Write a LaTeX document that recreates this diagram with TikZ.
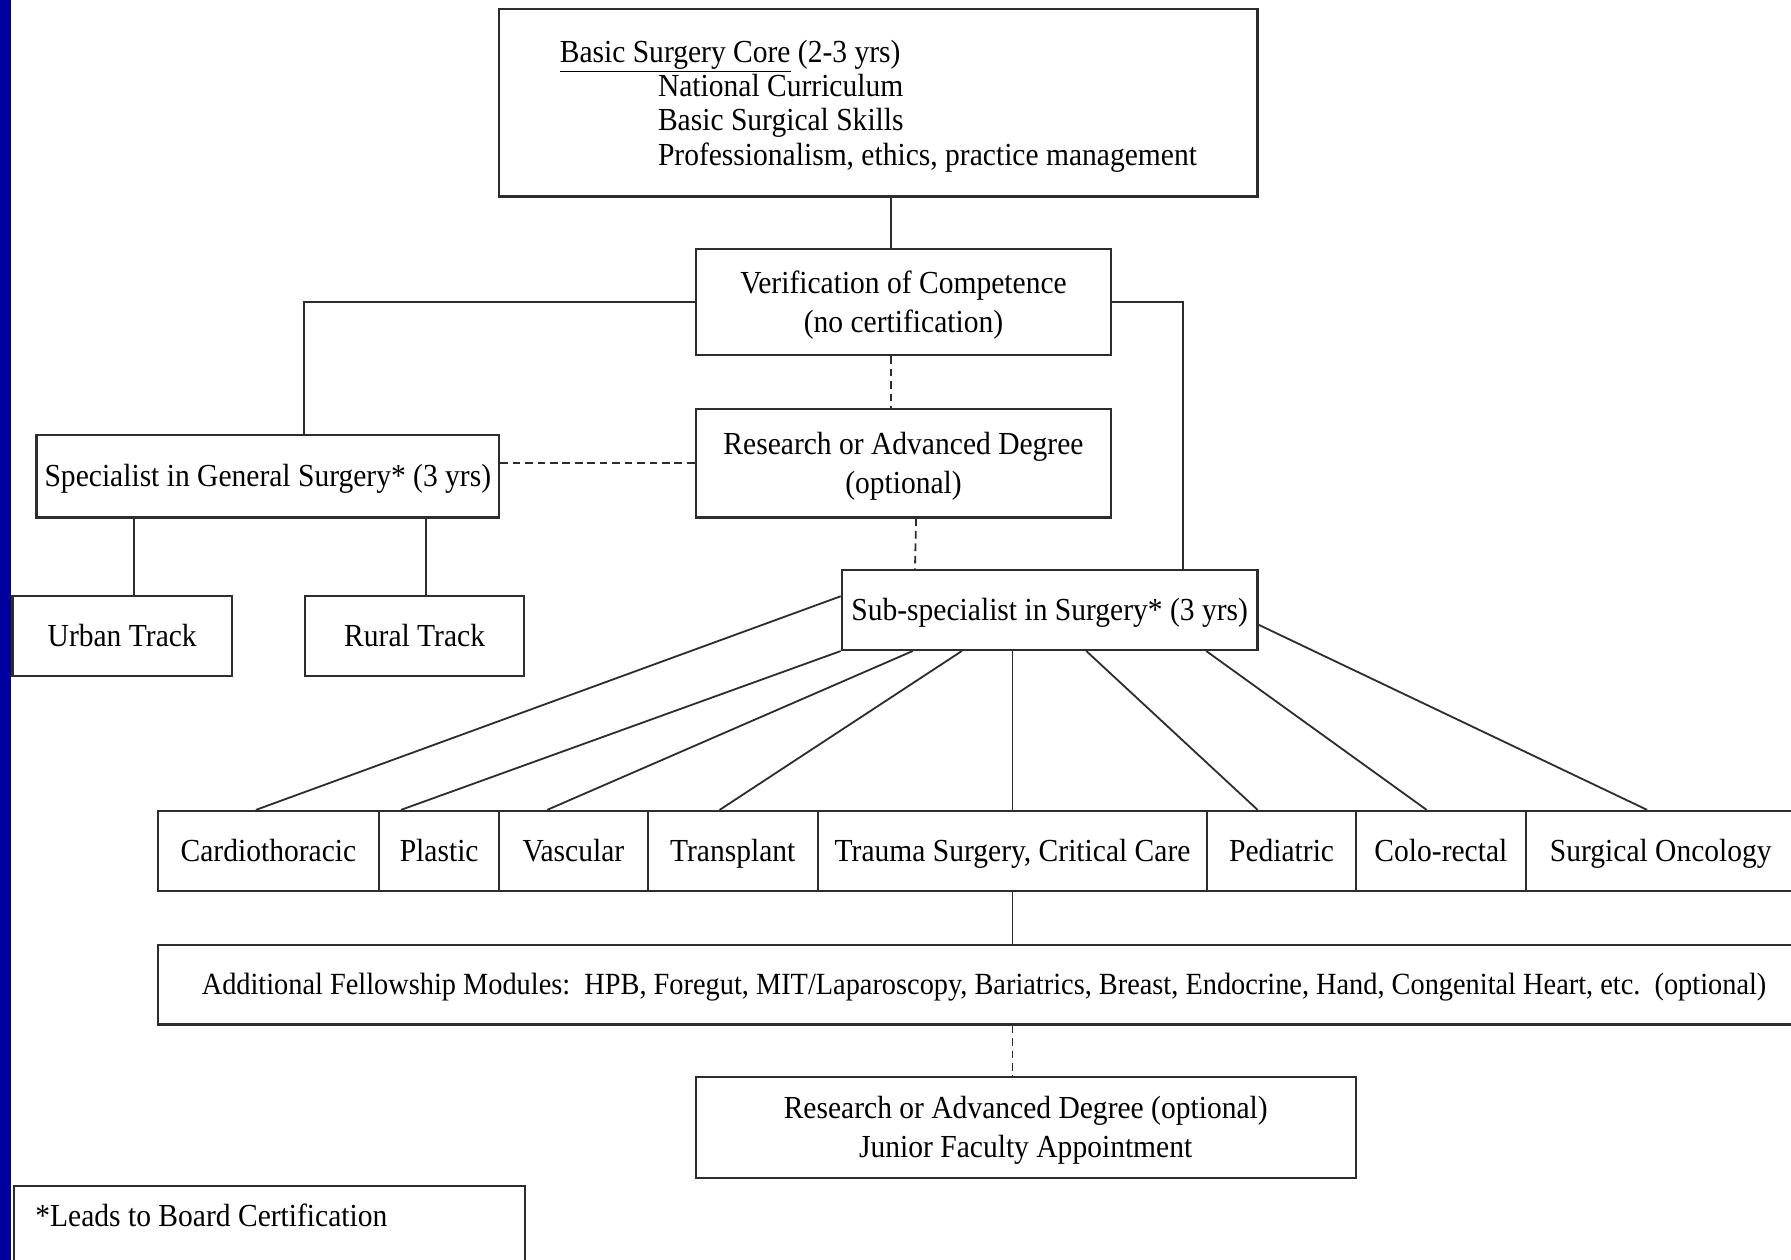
\documentclass[tikz,border=0pt]{standalone}
\usepackage{fontspec}
\setmainfont{Liberation Serif}[FakeStretch=0.92]
\usetikzlibrary{calc}
\definecolor{barblue}{RGB}{0,0,160}
\definecolor{linegray}{RGB}{45,45,45}
\newcommand{\uu}{0.02cm}
\begin{document}
\begin{tikzpicture}[x=0.02cm,y=-0.02cm,
  box/.style={draw=linegray, line width=1.1pt, fill=white, inner sep=0pt,
    font=\fontsize{16}{19.4}\selectfont, align=center,
    text height=14pt, text depth=3.4pt},
  twoline/.style={text height=32pt, text depth=2pt},
  conn/.style={draw=linegray, line width=0.9pt},
  dconn/.style={conn, dash pattern=on 3.8pt off 2.4pt},
]
\clip (0,0) rectangle (1568,1103);
\fill[white] (0,0) rectangle (1568,1103);
\fill[barblue] (0,0) rectangle (10,1103);

% main boxes
\node[box, minimum width=664*\uu, minimum height=164*\uu,
  font=\fontsize{16}{17.1}\selectfont, align=left,
  text height=64pt, text depth=2pt] (core) at (769,90)
  {\underline{Basic Surgery Core} (2-3 yrs)\\
   \hspace*{1.72cm}National Curriculum\\
   \hspace*{1.72cm}Basic Surgical Skills\\
   \hspace*{1.72cm}Professionalism, ethics, practice management};
\node[box, twoline, minimum width=364*\uu, minimum height=93*\uu] (ver) at (791,264.5)
  {Verification of Competence\\(no certification)};
\node[box, twoline, minimum width=364*\uu, minimum height=95*\uu] (res) at (791,405.5)
  {Research or Advanced Degree\\(optional)};
\node[box, minimum width=405*\uu, minimum height=72*\uu] (spec) at (234.5,417)
  {Specialist in General Surgery* (3 yrs)};
\node[box, minimum width=192*\uu, minimum height=70*\uu] (urban) at (107,557) {Urban Track};
\node[box, minimum width=192*\uu, minimum height=70*\uu] (rural) at (363,557) {Rural Track};
\node[box, minimum width=364*\uu, minimum height=70*\uu] (sub) at (919,534)
  {Sub-specialist in Surgery* (3 yrs)};

% specialty row
\node[box, minimum width=194*\uu, minimum height=70*\uu] (cardio) at (235,745) {Cardiothoracic};
\node[box, minimum width=105*\uu, minimum height=70*\uu] (plastic) at (384.5,745) {Plastic};
\node[box, minimum width=130*\uu, minimum height=70*\uu] (vasc) at (502,745) {Vascular};
\node[box, minimum width=149*\uu, minimum height=70*\uu] (trans) at (641.5,745) {Transplant};
\node[box, minimum width=341*\uu, minimum height=70*\uu] (trauma) at (886.5,745) {Trauma Surgery, Critical Care};
\node[box, minimum width=130*\uu, minimum height=70*\uu] (ped) at (1122,745) {Pediatric};
\node[box, minimum width=149*\uu, minimum height=70*\uu] (colo) at (1261.5,745) {Colo-rectal};
\node[box, minimum width=236*\uu, minimum height=70*\uu] (onc) at (1454,745) {Surgical Oncology};

% fellowship and final
\node[box, minimum width=1447*\uu, minimum height=70*\uu,
  font=\fontsize{15.35}{18}\selectfont, text height=13.5pt, text depth=3.3pt] (fel) at (861.5,862)
  {Additional Fellowship Modules:\ \ HPB, Foregut, MIT/Laparoscopy, Bariatrics, Breast, Endocrine, Hand, Congenital Heart, etc.\ \ (optional)};
\node[box, twoline, minimum width=578*\uu, minimum height=88*\uu] (final) at (898,987)
  {Research or Advanced Degree (optional)\\Junior Faculty Appointment};

% legend
\node[box, anchor=north west, minimum width=448*\uu,
  text height=36*\uu, text depth=84*\uu] (legend) at (11,1037)
  {\makebox[8.2cm][l]{*Leads to Board Certification}};

% helper x positions
\coordinate (xu) at (117,0);
\coordinate (xr) at (373,0);

% connectors
\draw[conn] ($(core.south)+(11,0)$) -- ($(ver.north)+(-11,0)$);
\draw[dconn] ($(ver.south)+(-11,0)$) -- ($(res.north)+(-11,0)$);
\draw[dconn] ($(res.south)+(11,0)$) -- ($(sub.north west)+(65,0)$);
\draw[dconn] (spec.east |- res.west) -- (res.west);
\draw[conn] (ver.west) -| ($(spec.north west)+(235,0)$);
\draw[conn] (ver.east) -| ($(sub.north west)+(300,0)$);
\draw[conn] (spec.south -| xu) -- (urban.north -| xu);
\draw[conn] (spec.south -| xr) -- (rural.north -| xr);

\draw[conn] ($(sub.west)+(0,-12)$) -- ($(cardio.north west)+(87,0)$);
\draw[conn] (sub.south west) -- ($(plastic.north west)+(20,0)$);
\draw[conn] ($(sub.south west)+(63,0)$) -- ($(vasc.north west)+(43,0)$);
\draw[conn] ($(sub.south west)+(106,0)$) -- ($(trans.north west)+(64,0)$);
\draw[conn] (trauma.north |- sub.south) -- (trauma.north);
\draw[conn] ($(sub.south west)+(215,0)$) -- ($(ped.north west)+(45,0)$);
\draw[conn] ($(sub.south west)+(320,0)$) -- ($(colo.north west)+(63,0)$);
\draw[conn] ($(sub.east)+(0,13)$) -- ($(onc.north west)+(107,0)$);

\draw[conn] (trauma.south) -- (trauma.south |- fel.north);
\draw[dconn] (trauma.south |- fel.south) -- (trauma.south |- final.north);
\end{tikzpicture}
\end{document}
